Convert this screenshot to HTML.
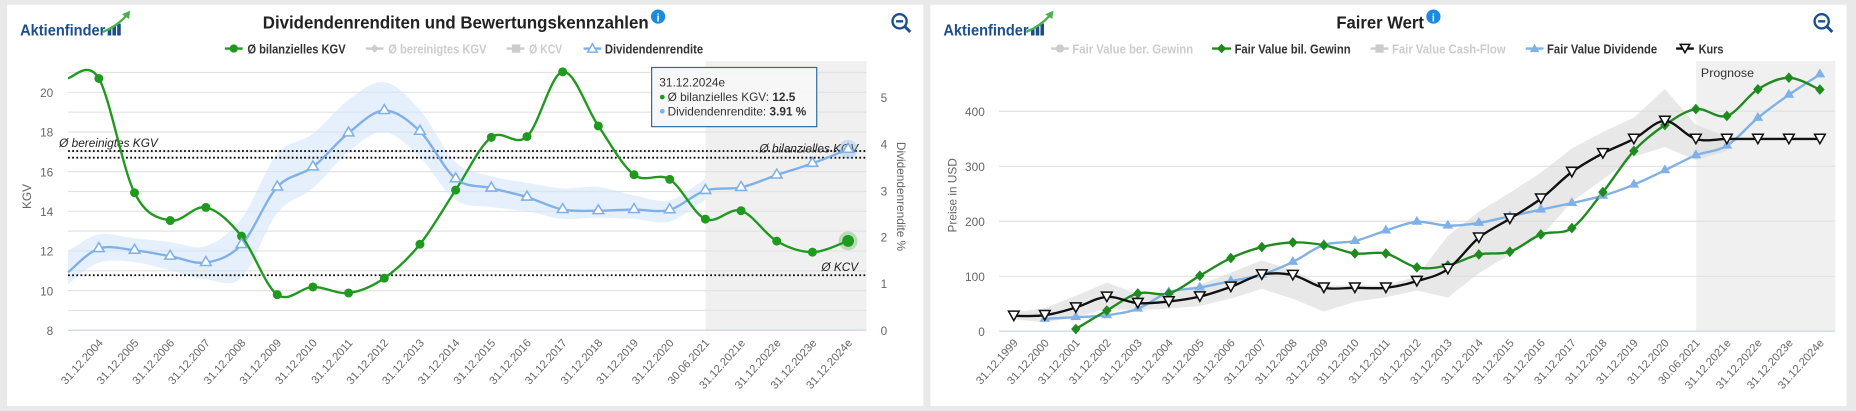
<!DOCTYPE html>
<html><head><meta charset="utf-8"><style>
html,body{margin:0;padding:0;background:#e9e9e9;width:1856px;height:411px;overflow:hidden}
svg{display:block}
text{font-family:"Liberation Sans",sans-serif}
.xl{font-size:9.5px;fill:#666;text-anchor:end}
.yl{font-size:10px;fill:#666}
.lg{font-size:11px;font-weight:bold}
</style></head><body>
<svg id="s" width="1856" height="411" viewBox="0 0 1568 347.2" preserveAspectRatio="none" xmlns="http://www.w3.org/2000/svg">
<rect x="0" y="0" width="1568" height="348" fill="#e9e9e9"/>
<rect x="6" y="4" width="774" height="339" fill="#fff"/>
<rect x="786" y="4" width="774" height="339" fill="#fff"/>

<!-- LEFT PANEL -->
<rect x="596" y="51.6" width="136" height="227.4" fill="#f0f0f0"/>
<g id="lgrid" stroke="#e2e2e2" stroke-width="1"></g>
<line x1="57.5" y1="279" x2="732" y2="279" stroke="#c6d4ea" stroke-width="1"/>
<path id="lband" fill="#d6e6fa" opacity="0.6"/>
<g stroke="#000" stroke-width="1.5" stroke-dasharray="1.5,2">
<line x1="57.5" y1="127.6" x2="732" y2="127.6"/>
<line x1="57.5" y1="133.2" x2="732" y2="133.2"/>
<line x1="57.5" y1="232.5" x2="732" y2="232.5"/>
</g>
<text x="50" y="124" font-size="10" font-style="italic" fill="#222">Ø bereinigtes KGV</text>
<text x="725" y="129" font-size="10" font-style="italic" fill="#222" text-anchor="end">Ø bilanzielles KGV</text>
<text x="725" y="229" font-size="10" font-style="italic" fill="#222" text-anchor="end">Ø KCV</text>
<path id="lblue" fill="none" stroke="#7fb0e6" stroke-width="2"/>
<path id="lgreen" fill="none" stroke="#1f9a1f" stroke-width="2"/>
<g id="lmk"></g>
<g class="yl" text-anchor="end">
<text x="45" y="82">20</text><text x="45" y="115.5">18</text><text x="45" y="149">16</text><text x="45" y="182.5">14</text><text x="45" y="216">12</text><text x="45" y="249.5">10</text><text x="45" y="283">8</text>
</g>
<g class="yl">
<text x="744" y="86">5</text><text x="744" y="125.5">4</text><text x="744" y="165">3</text><text x="744" y="204">2</text><text x="744" y="243.5">1</text><text x="744" y="283">0</text>
</g>
<text x="26" y="166" font-size="10" fill="#666" text-anchor="middle" transform="rotate(-90 26 166)">KGV</text>
<text x="758" y="166" font-size="10" fill="#666" text-anchor="middle" transform="rotate(90 758 166)">Dividendenrendite %</text>
<g id="lx" class="xl"></g>
<text x="385" y="24" font-size="15" font-weight="bold" fill="#222" text-anchor="middle" textLength="326" lengthAdjust="spacingAndGlyphs">Dividendenrenditen und Bewertungskennzahlen</text>
<circle cx="556" cy="14" r="6" fill="#1a8be0"/><text x="556" y="18" font-size="9" font-weight="bold" fill="#fff" text-anchor="middle">i</text>
<g id="logo1"></g>
<g transform="translate(760,18)"><circle r="6" fill="none" stroke="#1c4f8c" stroke-width="2"/><line x1="-3" y1="0" x2="3" y2="0" stroke="#1c4f8c" stroke-width="2"/><line x1="4.5" y1="4.5" x2="9" y2="9" stroke="#1c4f8c" stroke-width="2.5"/></g>
<!-- legend left -->
<line x1="190" y1="41" x2="205" y2="41" stroke="#1f9a1f" stroke-width="2"/><circle cx="197.5" cy="41" r="3.5" fill="#1f9a1f"/>
<text x="209" y="45" class="lg" fill="#333" textLength="83" lengthAdjust="spacingAndGlyphs">Ø bilanzielles KGV</text>
<line x1="309" y1="41" x2="324" y2="41" stroke="#ccc" stroke-width="2"/><path d="M316.5 37.5l3.5 3.5-3.5 3.5-3.5-3.5z" fill="#ccc"/>
<text x="328" y="45" class="lg" fill="#ccc" textLength="83" lengthAdjust="spacingAndGlyphs">Ø bereinigtes KGV</text>
<line x1="428" y1="41" x2="443" y2="41" stroke="#ccc" stroke-width="2"/><rect x="432.5" y="37.5" width="7" height="7" fill="#ccc"/>
<text x="447" y="45" class="lg" fill="#ccc" textLength="28" lengthAdjust="spacingAndGlyphs">Ø KCV</text>
<line x1="493" y1="41" x2="508" y2="41" stroke="#7fb0e6" stroke-width="2"/><path d="M500.5 37l4 7h-8z" fill="#fff" stroke="#7fb0e6" stroke-width="1.3"/>
<text x="511" y="45" class="lg" fill="#333" textLength="83" lengthAdjust="spacingAndGlyphs">Dividendenrendite</text>
<!-- tooltip -->
<rect x="550.5" y="57" width="139.5" height="50" fill="#f7f7f7" fill-opacity="0.95" stroke="#2b6aa3" stroke-width="1"/>
<text x="557" y="73" font-size="10" fill="#333">31.12.2024e</text>
<circle cx="559.5" cy="82" r="2" fill="#1f9a1f"/>
<text x="564" y="85.5" font-size="10" fill="#333">Ø bilanzielles KGV: <tspan font-weight="bold">12.5</tspan></text>
<circle cx="559.5" cy="94" r="2" fill="#7fb0e6"/>
<text x="564" y="97.5" font-size="10" fill="#333">Dividendenrendite: <tspan font-weight="bold">3.91 %</tspan></text>

<!-- RIGHT PANEL -->
<rect x="1433" y="51.6" width="117.5" height="228.2" fill="#f0f0f0"/>
<g stroke="#e2e2e2" stroke-width="1">
<line x1="844" y1="94" x2="1550.5" y2="94"/><line x1="844" y1="140.5" x2="1550.5" y2="140.5"/><line x1="844" y1="186.9" x2="1550.5" y2="186.9"/><line x1="844" y1="233.4" x2="1550.5" y2="233.4"/>
</g>
<line x1="844" y1="279.8" x2="1550.5" y2="279.8" stroke="#c6d4ea" stroke-width="1"/>
<text x="1437" y="65" font-size="10.5" fill="#333">Prognose</text>
<path id="rband" fill="#d9d9d9" opacity="0.6"/>
<path id="rblue" fill="none" stroke="#7fb0e6" stroke-width="2"/>
<path id="rgreen" fill="none" stroke="#1f8a1f" stroke-width="2"/>
<path id="rblack" fill="none" stroke="#111" stroke-width="2"/>
<g id="rmk"></g>
<g class="yl" text-anchor="end">
<text x="832" y="98">400</text><text x="832" y="144.5">300</text><text x="832" y="191">200</text><text x="832" y="237.5">100</text><text x="832" y="284">0</text>
</g>
<text x="808" y="165" font-size="10" fill="#666" text-anchor="middle" transform="rotate(-90 808 165)">Preise in USD</text>
<g id="rx" class="xl"></g>
<text x="1166" y="24" font-size="15" font-weight="bold" fill="#222" text-anchor="middle" textLength="74" lengthAdjust="spacingAndGlyphs">Fairer Wert</text>
<circle cx="1211" cy="14" r="6" fill="#1a8be0"/><text x="1211" y="18" font-size="9" font-weight="bold" fill="#fff" text-anchor="middle">i</text>
<g id="logo2"></g>
<g transform="translate(1539,18)"><circle r="6" fill="none" stroke="#1c4f8c" stroke-width="2"/><line x1="-3" y1="0" x2="3" y2="0" stroke="#1c4f8c" stroke-width="2"/><line x1="4.5" y1="4.5" x2="9" y2="9" stroke="#1c4f8c" stroke-width="2.5"/></g>
<!-- legend right -->
<line x1="888" y1="41" x2="903" y2="41" stroke="#ccc" stroke-width="2"/><circle cx="895.5" cy="41" r="3.5" fill="#ccc"/>
<text x="906" y="45" class="lg" fill="#ccc" textLength="102" lengthAdjust="spacingAndGlyphs">Fair Value ber. Gewinn</text>
<line x1="1024" y1="41" x2="1040" y2="41" stroke="#1f8a1f" stroke-width="2"/><path d="M1032 37l4 4-4 4-4-4z" fill="#1f8a1f"/>
<text x="1043" y="45" class="lg" fill="#333" textLength="98" lengthAdjust="spacingAndGlyphs">Fair Value bil. Gewinn</text>
<line x1="1158" y1="41" x2="1173" y2="41" stroke="#ccc" stroke-width="2"/><rect x="1162" y="37.5" width="7" height="7" fill="#ccc"/>
<text x="1176" y="45" class="lg" fill="#ccc" textLength="96" lengthAdjust="spacingAndGlyphs">Fair Value Cash-Flow</text>
<line x1="1289" y1="41" x2="1304" y2="41" stroke="#7fb0e6" stroke-width="2"/><path d="M1296.5 37l4 7h-8z" fill="#7fb0e6"/>
<text x="1307" y="45" class="lg" fill="#333" textLength="93" lengthAdjust="spacingAndGlyphs">Fair Value Dividende</text>
<line x1="1416" y1="41" x2="1431" y2="41" stroke="#111" stroke-width="2"/><path d="M1419.5 37.5h8l-4 7z" fill="#fff" stroke="#111" stroke-width="1.3"/>
<text x="1435" y="45" class="lg" fill="#333" textLength="21" lengthAdjust="spacingAndGlyphs">Kurs</text>
</svg>
<script>
var NS="http://www.w3.org/2000/svg";
function el(p,t,a){var e=document.createElementNS(NS,t);for(var k in a)e.setAttribute(k,a[k]);p.appendChild(e);return e;}
function spline(P){
 var d="M"+P[0][0].toFixed(1)+","+P[0][1].toFixed(1);
 for(var i=0;i<P.length-1;i++){var p0=P[i-1]||P[i],p1=P[i],p2=P[i+1],p3=P[i+2]||P[i+1];
  var c1x=p1[0]+(p2[0]-p0[0])/6,c1y=p1[1]+(p2[1]-p0[1])/6,c2x=p2[0]-(p3[0]-p1[0])/6,c2y=p2[1]-(p3[1]-p1[1])/6;
  d+="C"+c1x.toFixed(1)+","+c1y.toFixed(1)+" "+c2x.toFixed(1)+","+c2y.toFixed(1)+" "+p2[0].toFixed(1)+","+p2[1].toFixed(1);}
 return d;}
function band(U,L){var R=L.slice().reverse();var r=spline(R);return spline(U)+"L"+R[0][0].toFixed(1)+","+R[0][1].toFixed(1)+r.slice(r.indexOf("C"))+"Z";}
function poly(U,L){var R=L.slice().reverse();var P=U.concat(R);return "M"+P.map(function(p){return p[0].toFixed(1)+","+p[1].toFixed(1);}).join("L")+"Z";}
// left
var lg=document.getElementById("lgrid");
for(var v=9;v<=21;v++){var y=279-(v-8)*16.75;el(lg,"line",{x1:57.5,x2:732,y1:y,y2:y});}
var LX=[];for(var i=0;i<22;i++)LX.push(83.5+i*(633/21));
var gy=[66.3,162.8,186.3,175.2,199.5,248.9,242.4,247.5,235,206.3,160.6,116,115.4,60.7,106.4,147.6,151.5,185.1,178,203.7,213,203.5];
var G=[[57.5,66]];for(i=0;i<22;i++)G.push([LX[i],gy[i]]);
var by=[210,211.4,216.4,221.8,206.6,158,141,112.3,93.4,110.9,151,158.9,166.5,177,178,177,177.2,160.9,158.3,147.9,138,126.1];
var B=[[57.5,230]];for(i=0;i<22;i++)B.push([LX[i],by[i]]);
document.getElementById("lgreen").setAttribute("d",spline(G));
document.getElementById("lblue").setAttribute("d",spline(B));
var up=[18,12,10,12,14,22,28,28,28,24,18,14,10,12,18,20,12,8,10];
var dn=[10,12,10,12,14,28,22,18,16,18,22,18,16,12,8,6,8,10,8];
var U=[],Lw=[];for(i=0;i<=18;i++){U.push([B[i][0],B[i][1]-up[i]]);Lw.push([B[i][0],B[i][1]+dn[i]]);}
document.getElementById("lband").setAttribute("d",band(U,Lw));
var mk=document.getElementById("lmk");
for(i=1;i<G.length-1;i++)el(mk,"circle",{cx:G[i][0],cy:G[i][1],r:3.8,fill:"#1f9a1f"});
var last=G[G.length-1];el(mk,"circle",{cx:last[0],cy:last[1],r:8,fill:"#1f9a1f","fill-opacity":0.25});el(mk,"circle",{cx:last[0],cy:last[1],r:5,fill:"#1f9a1f"});
for(i=1;i<B.length;i++){var x=B[i][0],y=B[i][1];if(i==B.length-1)el(mk,"circle",{cx:x,cy:y,r:8,fill:"#7fb0e6","fill-opacity":0.3});
 el(mk,"path",{d:"M"+x+","+(y-5)+"l4.5,7.5h-9z",fill:"#fff",stroke:"#7fb0e6","stroke-width":1.3});}
var ll=["31.12.2004","31.12.2005","31.12.2006","31.12.2007","31.12.2008","31.12.2009","31.12.2010","31.12.2011","31.12.2012","31.12.2013","31.12.2014","31.12.2015","31.12.2016","31.12.2017","31.12.2018","31.12.2019","31.12.2020","30.06.2021","31.12.2021e","31.12.2022e","31.12.2023e","31.12.2024e"];
var lx=document.getElementById("lx");
for(i=0;i<22;i++){var t=el(lx,"text",{x:LX[i]+4,y:290,transform:"rotate(-48 "+(LX[i]+4)+" 290)"});t.textContent=ll[i];}
// right
var RX=[];for(i=0;i<27;i++)RX.push(856.5+i*(681/26));
function ry(v){return 279.8-v*0.4645;}
var kv=[27.9,29,43,62.5,51,54,63,80.7,103,102,79,79,79,91,113,170,204.5,241,289.5,323.5,349.6,382.4,349.6,349.6,349.6,349.6,349.6];
var K=[];for(i=0;i<27;i++)K.push([RX[i],ry(kv[i])]);
var gv=[null,null,4,37.6,68.6,68.6,101,133,153,161.5,156.6,141.4,141.4,116,119.6,139.6,144.5,176,187.6,253,327.8,375,404,391.5,440,461,439.5];
var GR=[];for(i=0;i<27;i++)if(gv[i]!=null)GR.push([RX[i],ry(gv[i])]);
var bv=[null,22.5,25.5,29,41,71,79.5,91,103,126,157,164,183,199,192,197,209,221,233,246.4,266.5,292.6,320,337.5,388,430,467];
var BR=[];for(i=0;i<27;i++)if(bv[i]!=null)BR.push([RX[i],ry(bv[i])]);
document.getElementById("rblack").setAttribute("d",spline(K));
document.getElementById("rgreen").setAttribute("d",spline(GR));
document.getElementById("rblue").setAttribute("d",spline(BR));
var ku=[3,6,10,12,8,8,10,12,12,4,2,2,2,4,28,22,22,22,20,18,18,27,12,2],kd=[3,6,8,10,6,6,8,10,12,20,20,12,8,8,24,30,30,32,25,22,15,22,18,10];
var U2=[],L2=[];for(i=0;i<=23;i++){U2.push([K[i][0],K[i][1]-ku[i]]);L2.push([K[i][0],K[i][1]+kd[i]]);}
document.getElementById("rband").setAttribute("d",poly(U2,L2));
var rm=document.getElementById("rmk");
for(i=0;i<BR.length;i++){var x=BR[i][0],y=BR[i][1];el(rm,"path",{d:"M"+x+","+(y-5)+"l4.5,7.5h-9z",fill:"#7fb0e6"});}
for(i=0;i<GR.length;i++){var x=GR[i][0],y=GR[i][1];el(rm,"path",{d:"M"+x+","+(y-4.5)+"l4,4.5-4,4.5-4-4.5z",fill:"#1f8a1f"});}
for(i=0;i<K.length;i++){var x=K[i][0],y=K[i][1];el(rm,"path",{d:"M"+(x-4.5)+","+(y-4)+"h9l-4.5,8z",fill:"#fff",stroke:"#111","stroke-width":1.3});}
var rl=["31.12.1999","31.12.2000","31.12.2001","31.12.2002","31.12.2003"].concat(ll);
var rx=document.getElementById("rx");
for(i=0;i<27;i++){var t=el(rx,"text",{x:RX[i]+4,y:290,transform:"rotate(-48 "+(RX[i]+4)+" 290)"});t.textContent=rl[i];}
// logos
function logo(id,x0){var g=document.getElementById(id);
 var t=el(g,"text",{x:x0,y:30,"font-size":13.5,"font-weight":"bold",fill:"#1b4e8c",textLength:72,lengthAdjust:"spacingAndGlyphs"});t.textContent="Aktienfinder";
 var bx=x0+74;[[0,6],[4,8],[8,10]].forEach(function(b){el(g,"rect",{x:bx+b[0],y:30-b[1],width:3,height:b[1],fill:"#1b4e8c"});});
 el(g,"path",{d:"M"+(x0+70)+",27 Q"+(x0+82)+",22 "+(x0+90)+",13",fill:"none",stroke:"#4caf50","stroke-width":2});
 el(g,"path",{d:"M"+(x0+86)+",12l7,-3-1,7z",fill:"#4caf50"});}
logo("logo1",17);logo("logo2",797);
</script>
</body></html>
